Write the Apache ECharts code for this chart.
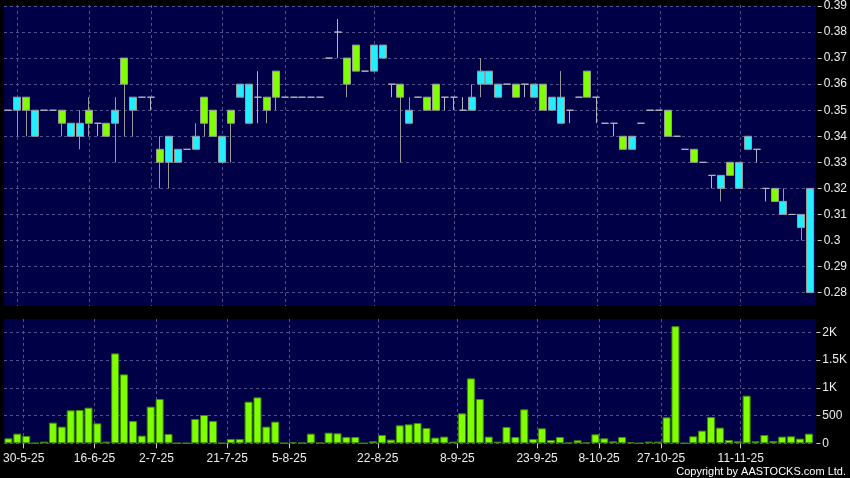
<!DOCTYPE html>
<html><head><meta charset="utf-8">
<script src="https://cdn.jsdelivr.net/npm/echarts@6/dist/echarts.min.js"></script>
<style>html,body{margin:0;padding:0;background:#000;}#c{width:850px;height:478px;}</style>
</head><body><div id="c"></div>
<script>
// x-axis date labels and the data index (trading slot) where each one sits
const tickLabels = ['30-5-25','16-6-25','2-7-25','21-7-25','5-8-25','22-8-25','8-9-25','23-9-25','8-10-25','27-10-25','11-11-25'];
const tickIdx = [1, 9, 16, 24, 31, 41, 50, 59, 66, 73, 82];

// daily candles: [open, close, low, high]
const ohlc = [
  [0.35,0.35,0.35,0.35],[0.355,0.35,0.34,0.355],[0.35,0.355,0.34,0.355],[0.35,0.34,0.34,0.35],
  [0.35,0.35,0.35,0.35],[0.35,0.35,0.35,0.35],[0.345,0.35,0.34,0.35],[0.345,0.34,0.34,0.345],
  [0.345,0.34,0.335,0.35],[0.345,0.35,0.34,0.355],[0.345,0.345,0.34,0.345],[0.34,0.345,0.34,0.345],
  [0.35,0.345,0.33,0.355],[0.36,0.37,0.34,0.37],[0.355,0.35,0.34,0.355],[0.355,0.355,0.355,0.355],
  [0.355,0.355,0.35,0.355],[0.33,0.335,0.32,0.34],[0.34,0.33,0.32,0.34],[0.335,0.33,0.33,0.335],
  [0.335,0.335,0.335,0.335],[0.34,0.335,0.335,0.345],[0.345,0.355,0.34,0.355],[0.34,0.35,0.34,0.35],
  [0.34,0.33,0.33,0.34],[0.345,0.35,0.33,0.35],[0.36,0.355,0.355,0.36],[0.36,0.345,0.345,0.36],
  [0.355,0.355,0.345,0.365],[0.35,0.355,0.345,0.355],[0.355,0.365,0.35,0.365],[0.355,0.355,0.355,0.355],
  [0.355,0.355,0.355,0.355],[0.355,0.355,0.355,0.355],[0.355,0.355,0.355,0.355],[0.355,0.355,0.355,0.355],
  [0.37,0.37,0.37,0.37],[0.38,0.38,0.37,0.385],[0.36,0.37,0.355,0.37],[0.365,0.375,0.365,0.375],
  [0.365,0.365,0.365,0.365],[0.375,0.365,0.365,0.375],[0.375,0.37,0.37,0.375],[0.36,0.36,0.355,0.36],
  [0.355,0.36,0.33,0.36],[0.35,0.345,0.345,0.355],[0.355,0.355,0.355,0.355],[0.35,0.355,0.35,0.355],
  [0.35,0.36,0.35,0.36],[0.355,0.355,0.35,0.355],[0.355,0.355,0.35,0.355],[0.35,0.35,0.35,0.355],
  [0.355,0.35,0.35,0.36],[0.365,0.36,0.355,0.37],[0.365,0.36,0.36,0.365],[0.36,0.355,0.355,0.36],
  [0.36,0.36,0.36,0.36],[0.355,0.36,0.355,0.36],[0.36,0.36,0.355,0.36],[0.36,0.355,0.355,0.36],
  [0.35,0.36,0.35,0.36],[0.355,0.35,0.35,0.355],[0.355,0.345,0.345,0.365],[0.35,0.35,0.345,0.35],
  [0.355,0.355,0.355,0.355],[0.355,0.365,0.355,0.365],[0.355,0.355,0.345,0.355],[0.345,0.345,0.345,0.345],
  [0.345,0.345,0.34,0.345],[0.335,0.34,0.335,0.34],[0.34,0.335,0.335,0.34],[0.345,0.345,0.345,0.345],
  [0.35,0.35,0.35,0.35],[0.35,0.35,0.35,0.35],[0.34,0.35,0.34,0.35],[0.34,0.34,0.34,0.34],
  [0.335,0.335,0.335,0.335],[0.33,0.335,0.33,0.335],[0.33,0.33,0.33,0.33],[0.325,0.325,0.32,0.325],
  [0.325,0.32,0.315,0.325],[0.325,0.33,0.325,0.33],[0.33,0.32,0.32,0.33],[0.34,0.335,0.335,0.34],
  [0.335,0.335,0.33,0.335],[0.32,0.32,0.315,0.32],[0.315,0.32,0.315,0.32],[0.315,0.31,0.31,0.32],
  [0.31,0.31,0.31,0.31],[0.31,0.305,0.30,0.31],[0.32,0.28,0.28,0.32]
];

// daily volume (shares, K shown on axis)
const volume = [
  90,174,132,5,30,372,300,594,600,642,360,30,1620,1242,402,138,660,798,168,5,3,438,510,402,5,78,78,750,828,300,390,5,
  18,10,174,10,192,180,114,114,3,36,150,66,324,342,366,276,102,120,30,540,1170,798,120,30,294,114,612,78,270,60,114,
  10,54,12,162,90,36,114,18,3,30,30,468,2110,3,126,228,474,282,60,36,858,36,150,42,120,126,84,174
];

const priceMin = 0.28, priceMax = 0.39, priceStep = 0.01;
const volMin = 0, volMax = 2000, volStep = 500;

const categories = ohlc.map((_, i) => {
  const k = tickIdx.indexOf(i);
  return k >= 0 ? tickLabels[k] : String(i);
});
const tickSet = new Set(tickIdx);
const showTick = (i) => tickSet.has(i);

const NAVY = '#000046';
const GRID_LINE = { color: '#50508e', type: [3, 3], width: 1 };
const TXT = '#eeeeee';
const FONT = '"Liberation Sans", Arial, sans-serif';

const L = 4, W = 812, SLOT = W / ohlc.length;

const chart = echarts.init(document.getElementById('c'), null, { renderer: 'canvas' });
chart.setOption({
  backgroundColor: '#000',
  animation: false,
  graphic: [
    { type: 'rect', z: -10, shape: { x: L, y: 5, width: W, height: 301 }, style: { fill: NAVY } },
    { type: 'rect', z: -10, shape: { x: L, y: 319, width: W, height: 124.3 }, style: { fill: NAVY } },
    { type: 'text', z: 10, right: 4, top: 466,
      style: { text: 'Copyright by AASTOCKS.com Ltd.', fill: '#ffffff', font: '11px ' + FONT } }
  ],
  grid: [
    { left: L + SLOT / 2, width: W - SLOT, top: 5, height: 301 },
    { left: L, width: W, top: 6, height: 286.6 },
    { left: L + SLOT / 2, width: W - SLOT, top: 319, height: 124.3 },
    { left: L, width: W, top: 332.3, height: 111 }
  ],
  xAxis: [
    { gridIndex: 0, type: 'category', data: categories, boundaryGap: false,
      axisLine: { show: false }, axisTick: { show: false }, axisLabel: { show: false },
      splitLine: { show: true, interval: showTick, lineStyle: GRID_LINE } },
    { gridIndex: 1, type: 'category', data: categories, boundaryGap: true, show: false },
    { gridIndex: 2, type: 'category', data: categories, boundaryGap: false, offset: 1,
      axisLine: { show: false },
      axisTick: { show: true, interval: showTick, length: 5, lineStyle: { color: '#cccccc' } },
      axisLabel: { show: true, interval: showTick, margin: 8, color: TXT, fontSize: 12, fontFamily: FONT,
        formatter: (v, i) => (tickSet.has(i) ? v : '') },
      splitLine: { show: true, interval: showTick, lineStyle: GRID_LINE } },
    { gridIndex: 3, type: 'category', data: categories, boundaryGap: true, show: false }
  ],
  yAxis: [
    { gridIndex: 0, type: 'value', show: false, splitLine: { show: false } },
    { gridIndex: 1, type: 'value', position: 'right', min: priceMin, max: priceMax, interval: priceStep, offset: 3,
      axisLine: { show: false },
      axisTick: { show: true, length: 4, lineStyle: { color: '#cccccc' } },
      axisLabel: { margin: 6, color: TXT, fontSize: 12, fontFamily: FONT, formatter: v => String(+v.toFixed(3)) },
      splitLine: { show: true, lineStyle: GRID_LINE } },
    { gridIndex: 2, type: 'value', show: false, splitLine: { show: false } },
    { gridIndex: 3, type: 'value', position: 'right', min: volMin, max: volMax, interval: volStep, offset: 3,
      axisLine: { show: false },
      axisTick: { show: true, length: 4, lineStyle: { color: '#cccccc' } },
      axisLabel: { margin: 6, color: TXT, fontSize: 12, fontFamily: FONT,
        formatter: v => (v >= 1000 ? (v / 1000) + 'K' : String(v)) },
      splitLine: { show: true, lineStyle: GRID_LINE } }
  ],
  series: [
    { type: 'candlestick', xAxisIndex: 1, yAxisIndex: 1, data: ohlc, barWidth: 7.5,
      itemStyle: { color: '#80ff00', color0: '#22eeff', borderColor: '#9a9a9a', borderColor0: '#9a9a9a',
        borderColorDoji: '#b4b4c0', borderWidth: 1 } },
    { type: 'bar', xAxisIndex: 3, yAxisIndex: 3, data: volume, barWidth: 8, clip: false,
      itemStyle: { color: '#80ff00', borderColor: '#3f8a00', borderWidth: 1 } }
  ]
});
</script></body></html>
